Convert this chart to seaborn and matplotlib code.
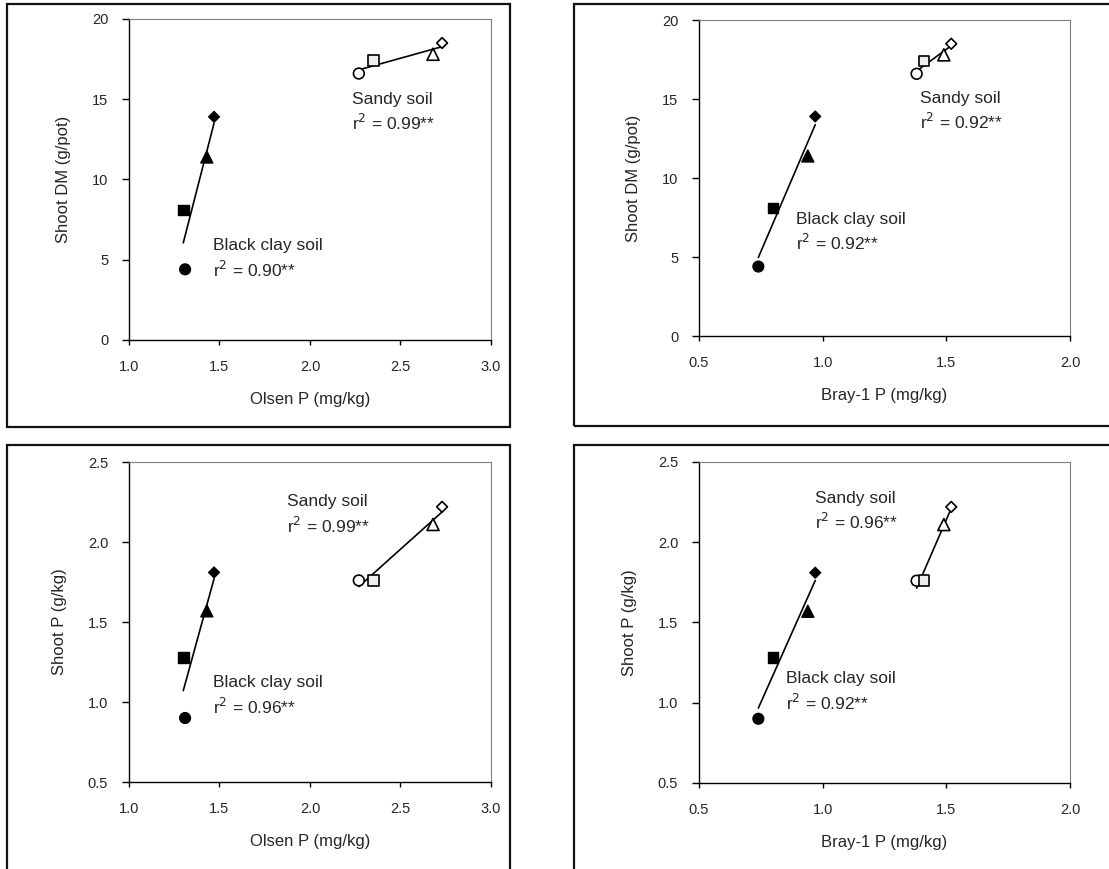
import numpy as np
import pandas as pd
import matplotlib.pyplot as plt
from matplotlib.patches import Rectangle
import seaborn as sns

# valores (4 tratamientos por suelo)
tratamientos = ['T1', 'T2', 'T3', 'T4']
olsen_clay = [1.31, 1.30, 1.43, 1.47]
olsen_sandy = [2.27, 2.35, 2.68, 2.73]
bray_clay = [0.74, 0.80, 0.94, 0.97]
bray_sandy = [1.38, 1.41, 1.49, 1.52]
dm_clay = [4.4, 8.1, 11.4, 13.9]
dm_sandy = [16.6, 17.4, 17.8, 18.5]
p_clay = [0.90, 1.28, 1.57, 1.81]
p_sandy = [1.76, 1.76, 2.11, 2.22]

r2_textos = {
    'dm_olsen': ('0.90', '0.99'),
    'dm_bray': ('0.92', '0.92'),
    'p_olsen': ('0.96', '0.99'),
    'p_bray': ('0.92', '0.96'),
}

sns.set_style("ticks")
plt.rcParams['font.family'] = ['Liberation Sans', 'DejaVu Sans']

fig = plt.figure(figsize=(11.09, 8.69), dpi=100)

marcadores = {'T1': 'o', 'T2': 's', 'T3': '^', 'T4': 'D'}
tamanos = {'T1': 60, 'T2': 58, 'T3': 75, 'T4': 30}
col_clay = {t: 'black' for t in tratamientos}
col_sandy = {'T1': 'white', 'T2': '#eeeeee', 'T3': 'white', 'T4': 'white'}

paneles = [
    dict(pos=[0.1163, 0.6088, 0.3264, 0.3694], xc=olsen_clay, xs=olsen_sandy,
         yc=dm_clay, ys=dm_sandy, xlim=(1.0, 3.0), ylim=(0, 20),
         yt=[0, 5, 10, 15, 20], yfmt='{:.0f}', xlab='Olsen P (mg/kg)',
         ylab='Shoot DM (g/pot)', key='dm_olsen',
         sandy=(2.23, 14.7, 13.1), clay=(1.466, 5.6, 3.94)),
    dict(pos=[0.6303, 0.6133, 0.3345, 0.3636], xc=bray_clay, xs=bray_sandy,
         yc=dm_clay, ys=dm_sandy, xlim=(0.5, 2.0), ylim=(0, 20),
         yt=[0, 5, 10, 15, 20], yfmt='{:.0f}', xlab='Bray-1 P (mg/kg)',
         ylab='Shoot DM (g/pot)', key='dm_bray',
         sandy=(1.394, 14.78, 13.1), clay=(0.892, 7.07, 5.43)),
    dict(pos=[0.1163, 0.1001, 0.3264, 0.3682], xc=olsen_clay, xs=olsen_sandy,
         yc=p_clay, ys=p_sandy, xlim=(1.0, 3.0), ylim=(0.5, 2.5),
         yt=[0.5, 1.0, 1.5, 2.0, 2.5], yfmt='{:.1f}', xlab='Olsen P (mg/kg)',
         ylab='Shoot P (g/kg)', key='p_olsen',
         sandy=(1.875, 2.224, 2.057), clay=(1.466, 1.093, 0.926)),
    dict(pos=[0.6303, 0.0990, 0.3345, 0.3694], xc=bray_clay, xs=bray_sandy,
         yc=p_clay, ys=p_sandy, xlim=(0.5, 2.0), ylim=(0.5, 2.5),
         yt=[0.5, 1.0, 1.5, 2.0, 2.5], yfmt='{:.1f}', xlab='Bray-1 P (mg/kg)',
         ylab='Shoot P (g/kg)', key='p_bray',
         sandy=(0.969, 2.245, 2.08), clay=(0.85, 1.12, 0.956)),
]

# marcos de cada grafico (estilo Excel)
marcos = [(0.0063, 0.5086, 0.4536, 0.4868), (0.5176, 0.5098, 0.55, 0.4856),
          (0.0063, -0.05, 0.4536, 0.5379), (0.5176, -0.05, 0.55, 0.5379)]
for m in marcos:
    fig.add_artist(Rectangle((m[0], m[1]), m[2], m[3], transform=fig.transFigure,
                             fill=False, edgecolor='#111111', lw=1.6))

for p in paneles:
    ax = fig.add_axes(p['pos'])
    datos_c = pd.DataFrame({'x': p['xc'], 'y': p['yc'], 'trat': tratamientos})
    datos_s = pd.DataFrame({'x': p['xs'], 'y': p['ys'], 'trat': tratamientos})

    # rectas de regresion
    sns.regplot(data=datos_c, x='x', y='y', scatter=False, ci=None, truncate=True,
                color='black', line_kws={'lw': 1.2}, ax=ax)
    sns.regplot(data=datos_s, x='x', y='y', scatter=False, ci=None, truncate=True,
                color='black', line_kws={'lw': 1.2}, ax=ax)

    sns.scatterplot(data=datos_c, x='x', y='y', hue='trat', style='trat', size='trat',
                    palette=col_clay, markers=marcadores, sizes=tamanos,
                    edgecolor='black', linewidth=1, legend=False, ax=ax, zorder=3)
    sns.scatterplot(data=datos_s, x='x', y='y', hue='trat', style='trat', size='trat',
                    palette=col_sandy, markers=marcadores, sizes=tamanos,
                    edgecolor='black', linewidth=1.2, legend=False, ax=ax, zorder=3)

    ax.set_xlim(p['xlim'])
    ax.set_ylim(p['ylim'])
    ax.set_xticks(np.arange(p['xlim'][0], p['xlim'][1] + 0.01, 0.5))
    ax.set_xticklabels(['{:.1f}'.format(v) for v in ax.get_xticks()])
    ax.set_yticks(p['yt'])
    ax.set_yticklabels([p['yfmt'].format(v) for v in p['yt']])
    ax.tick_params(axis='y', length=5, width=1, pad=10, labelsize=10.5, color='black')
    ax.tick_params(axis='x', length=3.5, width=1, pad=11, labelsize=10.5, color='black')
    ax.set_xlabel(p['xlab'], fontsize=12, labelpad=13)
    ax.set_ylabel(p['ylab'], fontsize=12, labelpad=15)

    for lado in ['left', 'bottom']:
        ax.spines[lado].set_color('black')
        ax.spines[lado].set_linewidth(1.0)
    for lado in ['top', 'right']:
        ax.spines[lado].set_color('#7f7f7f')
        ax.spines[lado].set_linewidth(0.8)

    r2c, r2s = r2_textos[p['key']]
    sx, sy1, sy2 = p['sandy']
    cx, cy1, cy2 = p['clay']
    ax.text(sx, sy1, 'Sandy soil', fontsize=12.5, va='baseline')
    ax.text(sx, sy2, 'r$^2$ = ' + r2s + '**', fontsize=12.5, va='baseline')
    ax.text(cx, cy1, 'Black clay soil', fontsize=12.5, va='baseline')
    ax.text(cx, cy2, 'r$^2$ = ' + r2c + '**', fontsize=12.5, va='baseline')

plt.savefig('out.png', dpi=100)
